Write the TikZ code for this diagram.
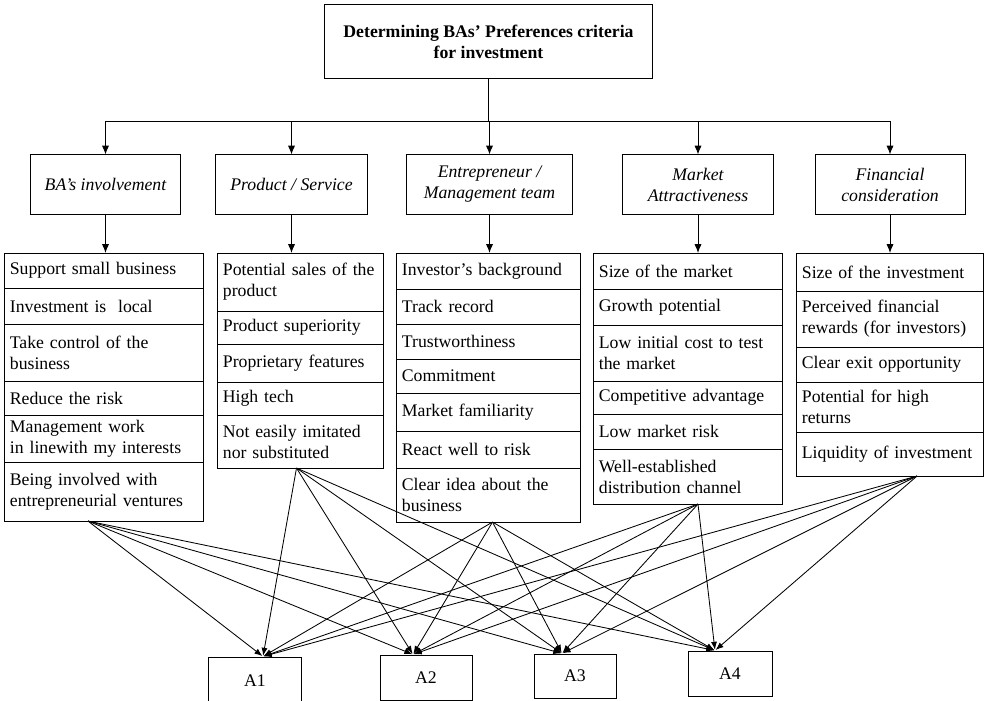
\documentclass[tikz,border=0pt]{standalone}
\usepackage{fontspec}
\setmainfont{Liberation Serif}
\usetikzlibrary{positioning, arrows.meta}
\hyphenpenalty=10000
\exhyphenpenalty=10000
\newcommand{\itemsize}{\fontsize{12.6pt}{15pt}\selectfont}
\tikzstyle{goalbox} = [rectangle, draw=black, line width=0.7pt, minimum width=81.75mm, minimum height=18.25mm, align=center, font=\itemsize\bfseries]
\tikzstyle{criterion} = [rectangle, draw=black, line width=0.7pt, minimum width=37.5mm, minimum height=14.75mm, align=center, font=\itemsize\itshape]
\tikzstyle{listitem} = [rectangle, draw=black, line width=0.7pt, outer sep=0pt, inner xsep=3.5pt, inner ysep=2pt, align=left, anchor=north, font=\itemsize]
\tikzstyle{colone} = [listitem, text width=47.04mm]
\tikzstyle{coltwo} = [listitem, text width=38.79mm]
\tikzstyle{colthree} = [listitem, text width=43.29mm]
\tikzstyle{colfour} = [listitem, text width=44.54mm]
\tikzstyle{colfive} = [listitem, text width=44.04mm]
\tikzstyle{alternative} = [rectangle, draw=black, line width=0.7pt, minimum width=23mm, minimum height=11.25mm, font=\itemsize]
\tikzstyle{arrow} = [line width=0.7pt, -{Latex[length=2.2mm, width=1.8mm]}]
\tikzstyle{link} = [line width=0.6pt, -{Latex[length=2mm, width=1.5mm]}, shorten >=0.5pt]

\begin{document}
\begin{tikzpicture}[x=0.025cm, y=-0.025cm]
    \useasboundingbox (0,0) rectangle (985,701);

    \node (goal) [goalbox] at (488.5,41.5) {Determining BAs’ Preferences criteria\\for investment};
    \coordinate (bus) at (488.5,121);

    \node (involvement) [criterion, minimum width=37.25mm] at (105.5,184.5) {BA’s involvement};
    \node (product) [criterion, minimum width=37.75mm] at (291.5,184.5) {Product / Service};
    \node (team) [criterion, minimum width=41.25mm] at (489.5,184.5) {Entrepreneur /\\Management team};
    \node (market) [criterion] at (698,184.5) {Market\\Attractiveness};
    \node (financial) [criterion] at (890,184.5) {Financial\\consideration};

    % BA's involvement
    \node (r11) [colone, minimum height=8.75mm] at (104,253) {Support small business};
    \node (r12) [colone, minimum height=9mm, below=0pt of r11] {Investment is \ local};
    \node (r13) [colone, minimum height=14.25mm, below=0pt of r12] {Take control of the\\business};
    \node (r14) [colone, minimum height=8.5mm, below=0pt of r13] {Reduce the risk};
    \node (r15) [colone, minimum height=11.75mm, below=0pt of r14] {Management work\\in linewith my interests};
    \node (r16) [colone, minimum height=14.75mm, below=0pt of r15] {Being involved with\\entrepreneurial ventures};

    % Product / Service
    \node (r21) [coltwo, minimum height=14.5mm] at (300.5,253) {Potential sales of the\\product};
    \node (r22) [coltwo, minimum height=8.25mm, below=0pt of r21] {Product superiority};
    \node (r23) [coltwo, minimum height=9.5mm, below=0pt of r22] {Proprietary features};
    \node (r24) [coltwo, minimum height=8.25mm, below=0pt of r23] {High tech};
    \node (r25) [coltwo, minimum height=13.25mm, below=0pt of r24] {Not easily imitated\\nor substituted};

    % Entrepreneur / Management team
    \node (r31) [colthree, minimum height=9mm] at (488.5,253) {Investor’s background};
    \node (r32) [colthree, minimum height=8.75mm, below=0pt of r31] {Track record};
    \node (r33) [colthree, minimum height=8.75mm, below=0pt of r32] {Trustworthiness};
    \node (r34) [colthree, minimum height=8.5mm, below=0pt of r33] {Commitment};
    \node (r35) [colthree, minimum height=9.5mm, below=0pt of r34] {Market familiarity};
    \node (r36) [colthree, minimum height=9.25mm, below=0pt of r35] {React well to risk};
    \node (r37) [colthree, minimum height=13.5mm, below=0pt of r36] {Clear idea about the\\business};

    % Market Attractiveness
    \node (r41) [colfour, minimum height=9mm] at (688,253) {Size of the market};
    \node (r42) [colfour, minimum height=9mm, below=0pt of r41] {Growth potential};
    \node (r43) [colfour, minimum height=14mm, below=0pt of r42] {Low initial cost to test\\the market};
    \node (r44) [colfour, minimum height=8.25mm, below=0pt of r43] {Competitive advantage};
    \node (r45) [colfour, minimum height=8.75mm, below=0pt of r44] {Low market risk};
    \node (r46) [colfour, minimum height=13.75mm, below=0pt of r45] {Well-established\\distribution channel};

    % Financial consideration
    \node (r51) [colfive, minimum height=9.5mm] at (890,253) {Size of the investment};
    \node (r52) [colfive, minimum height=14mm, below=0pt of r51] {Perceived financial\\rewards (for investors)};
    \node (r53) [colfive, minimum height=8.75mm, below=0pt of r52] {Clear exit opportunity};
    \node (r54) [colfive, minimum height=12.5mm, below=0pt of r53] {Potential for high\\returns};
    \node (r55) [colfive, minimum height=11mm, below=0pt of r54] {Liquidity of investment};

    \node (a1) [alternative, minimum height=11.75mm] at (255,680.5) {A1};
    \node (a2) [alternative] at (426,677.5) {A2};
    \node (a3) [alternative, minimum width=20.5mm, minimum height=11mm] at (575,676) {A3};
    \node (a4) [alternative, minimum width=21mm] at (730,673.5) {A4};

    \draw [line width=0.7pt] (goal) -- (bus);
    \draw [arrow] (bus) -| (involvement.north);
    \draw [arrow] (bus) -| (product.north);
    \draw [arrow] (bus) -| (team.north);
    \draw [arrow] (bus) -| (market.north);
    \draw [arrow] (bus) -| (financial.north);

    \draw [arrow] (involvement) -- (involvement |- r11.north);
    \draw [arrow] (product) -- (product |- r21.north);
    \draw [arrow] (team) -- (team |- r31.north);
    \draw [arrow] (market) -- (market |- r41.north);
    \draw [arrow] (financial) -- (financial |- r51.north);

    \coordinate (in1) at ([xshift=2mm]a1.north);
    \coordinate (in2) at ([xshift=-3.25mm]a2.north);
    \coordinate (in3) at ([xshift=-3.25mm]a3.north);
    \coordinate (in4) at ([xshift=-3.75mm]a4.north);

    \draw [link] ([xshift=-4mm]r16.south) -- (in1);
    \draw [link] ([xshift=-4mm]r16.south) -- (in2);
    \draw [link] ([xshift=-4mm]r16.south) -- (in3);
    \draw [link] ([xshift=-4mm]r16.south) -- (in4);

    \draw [link] ([xshift=-1mm]r25.south) -- (in1);
    \draw [link] ([xshift=-1mm]r25.south) -- (in2);
    \draw [link] ([xshift=-1mm]r25.south) -- (in3);
    \draw [link] ([xshift=-1mm]r25.south) -- (in4);

    \draw [link] ([xshift=1mm]r37.south) -- (in1);
    \draw [link] ([xshift=1mm]r37.south) -- (in2);
    \draw [link] ([xshift=1mm]r37.south) -- (in3);
    \draw [link] ([xshift=1mm]r37.south) -- (in4);

    \draw [link] ([xshift=2.5mm]r46.south) -- (in1);
    \draw [link] ([xshift=2.5mm]r46.south) -- (in2);
    \draw [link] ([xshift=2.5mm]r46.south) -- (in3);
    \draw [link] ([xshift=2.5mm]r46.south) -- (in4);

    \draw [link] ([xshift=6.75mm]r55.south) -- (in1);
    \draw [link] ([xshift=6.75mm]r55.south) -- (in2);
    \draw [link] ([xshift=6.75mm]r55.south) -- (in3);
    \draw [link] ([xshift=6.75mm]r55.south) -- (in4);
\end{tikzpicture}
\end{document}
